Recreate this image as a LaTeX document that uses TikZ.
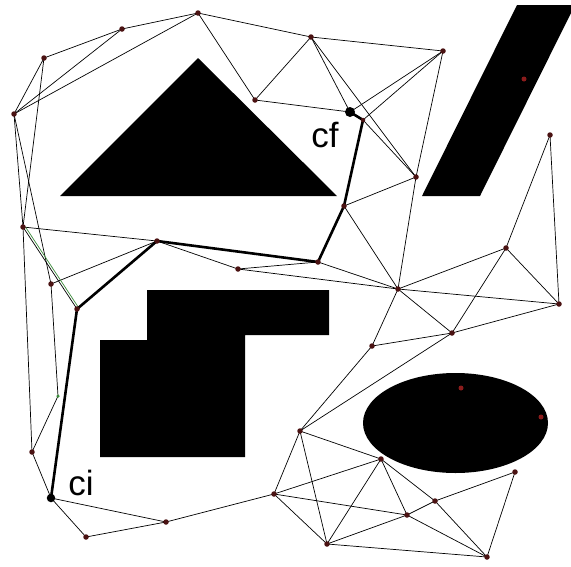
\documentclass[tikz,border=0pt]{standalone}
\usepackage{fontspec}
\setmainfont{Liberation Sans}
\pgfdeclarelayer{background}
\pgfdeclarelayer{edges}
\pgfsetlayers{background,edges,main}
\definecolor{vtx}{HTML}{4A1212}
\definecolor{inner}{HTML}{8B1C1C}
\definecolor{grn}{HTML}{3C8C3C}
\tikzset{
  v/.style={circle,fill=vtx,inner sep=0pt,minimum size=5.5pt},
  endpt/.style={circle,fill=black,inner sep=0pt,minimum size=8.5pt},
  hid/.style={circle,fill=inner,inner sep=0pt,minimum size=5pt},
  gv/.style={circle,fill=grn,inner sep=0pt,minimum size=3.5pt},
  edge/.style={draw=black,line width=0.7pt},
  pathe/.style={draw=black,line width=2.6pt,line cap=round,line join=round},
  obst/.style={fill=black,draw=none},
  lbl/.style={font=\fontsize{35}{35}\selectfont,inner sep=0pt,anchor=base}
}
\begin{document}
\begin{tikzpicture}[x=1pt,y=-1pt]
\useasboundingbox (0,0) rectangle (571,566);
% obstacles
\begin{pgfonlayer}{background}
\fill[white] (0,0) rectangle (571,566);
\fill[obst] (60,196) -- (198,58) -- (337,196) -- cycle;
\fill[obst] (517,5) -- (571,5) -- (571,13) -- (480,196) -- (422,196) -- cycle;
\fill[obst] (147,290) -- (329,290) -- (329,335) -- (245,335) -- (245,457) -- (100,457) -- (100,340) -- (147,340) -- cycle;
\fill[obst] (455.5,423) ellipse [x radius=92.5, y radius=50];
\end{pgfonlayer}
% vertices
\node[v] (A) at (198,13) {};
\node[v] (B) at (122,29) {};
\node[v] (C) at (44,58) {};
\node[v] (D) at (14,114) {};
\node[v] (E) at (255,100) {};
\node[v] (F) at (23,227) {};
\node[v] (G) at (157,241) {};
\node[v] (H) at (238,269) {};
\node[v] (I) at (51,284) {};
\node[v] (S) at (77,309) {};
\node[gv] (Gn) at (58,396) {};
\node[v] (T) at (32,452) {};
\node[endpt] (ci) at (51,498) {};
\node[v] (U) at (166,522) {};
\node[v] (V) at (86,537) {};
\node[v] (W) at (274,494) {};
\node[v] (J) at (311,37) {};
\node[v] (K) at (443,51) {};
\node[endpt,minimum width=10pt] (cf) at (350,112) {};
\node[v,minimum size=4.5pt] (L) at (363,120) {};
\node[v] (M) at (550,135) {};
\node[v] (N) at (416,177) {};
\node[v] (O) at (344,206) {};
\node[v] (P) at (318,262) {};
\node[v] (Q) at (506,248) {};
\node[v] (R) at (398,289) {};
\node[v] (X) at (559,304) {};
\node[v] (Y) at (452,333) {};
\node[v] (Z) at (372,346) {};
\node[v] (AA) at (300,431) {};
\node[v] (BB) at (381,459) {};
\node[v] (CC) at (515,472) {};
\node[v] (DD) at (435,501) {};
\node[v] (EE) at (407,515) {};
\node[v] (FF) at (327,544) {};
\node[v] (GG) at (487,557) {};
\node[hid] (h1) at (524,79) {};
\node[hid] (h2) at (461,388) {};
\node[hid] (h3) at (541,417) {};
% labels
\node[lbl] (lcf) at (325,147) {cf};
\node[lbl] (lci) at (81,495) {ci};
% edges
\begin{pgfonlayer}{edges}
\foreach \a/\b in {A/B,A/J,A/E,A/D,B/C,B/D,C/D,C/F,D/F,D/I,E/J,E/cf,J/K,J/cf,J/N,K/cf,K/L,K/N,L/N,N/O,N/R,O/R,P/R,H/R,H/P,G/H,F/G,I/G,F/S,F/T,I/Gn,Gn/T,T/ci,ci/V,ci/U,V/U,U/W,W/AA,W/BB,W/FF,W/EE,AA/BB,AA/FF,AA/Z,AA/Y,BB/FF,BB/EE,BB/DD,FF/EE,FF/GG,EE/DD,EE/GG,DD/GG,DD/CC,CC/GG,R/Z,R/Y,R/Q,R/X,Q/X,Q/Y,Q/M,M/X,Y/X,Y/Z}
  \draw[edge] (\a.center) -- (\b.center);
\draw[draw=grn,line width=0.7pt] ([xshift=2.5pt]F.center) -- ([xshift=2.5pt]S.center);
\draw[pathe] (ci.center) -- (S.center) -- (G.center) -- (P.center) -- (O.center) -- (L.center) -- (cf.center);
\end{pgfonlayer}
\end{tikzpicture}
\end{document}
